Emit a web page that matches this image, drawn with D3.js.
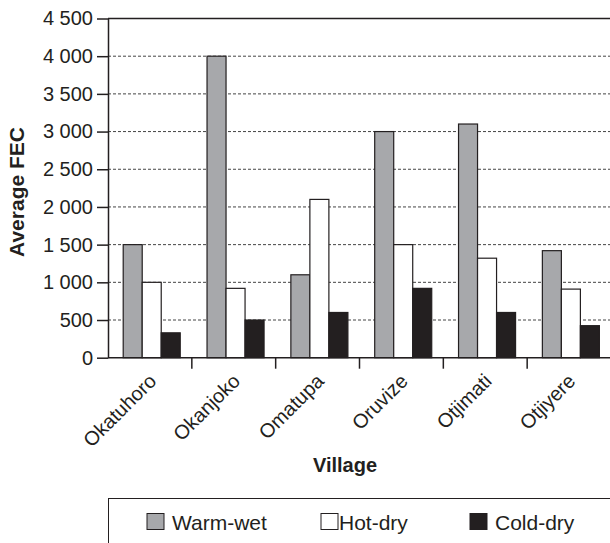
<!DOCTYPE html>
<html><head><meta charset="utf-8">
<script src="https://cdn.jsdelivr.net/npm/d3@7"></script>
<style>
html,body{margin:0;padding:0;background:#fff;}
text{font-family:"Liberation Sans",Arial,Helvetica,sans-serif;fill:#231f20;}
</style></head>
<body>
<svg id="chart" width="610" height="543"></svg>
<script>
const villages = ["Okatuhoro","Okanjoko","Omatupa","Oruvize","Otjimati","Otjiyere"];
const seriesNames = ["Warm-wet","Hot-dry","Cold-dry"];
const warmWet = [1500, 4000, 1100, 3000, 3100, 1420];
const hotDry  = [1000, 920, 2100, 1500, 1320, 910];
const coldDry = [330, 500, 600, 920, 600, 425];
const yTicks = [0,500,1000,1500,2000,2500,3000,3500,4000,4500];
const yTickLabels = ["0","500","1 000","1 500","2 000","2 500","3 000","3 500","4 000","4 500"];
const colors = ["#a7a8ab","#ffffff","#231f20"];

const svg = d3.select("#chart");
const L = 108, R = 611, T = 18.5, B = 357.7;
const x = d3.scaleBand().domain(villages).range([L, R]).paddingInner(0).paddingOuter(0);
const xs = d3.scaleBand().domain(seriesNames).range([0, x.bandwidth()]).paddingOuter(0.705).paddingInner(0);
const y = d3.scaleLinear().domain([0, 4500]).range([B, T]);

// gridlines
svg.append("g").selectAll("line").data(yTicks.filter(d => d > 0 && d < 4500)).join("line")
  .attr("x1", L).attr("x2", R).attr("y1", d => y(d)).attr("y2", d => y(d))
  .attr("stroke", "#444").attr("stroke-width", 1).attr("stroke-dasharray", "3,2");

// bars
const data = villages.map((v, i) => ({v, vals: [warmWet[i], hotDry[i], coldDry[i]]}));
const g = svg.append("g").selectAll("g").data(data).join("g")
  .attr("transform", d => `translate(${x(d.v) + 1.8},0)`);
g.selectAll("rect").data(d => d.vals.map((val, j) => ({s: seriesNames[j], val, j}))).join("rect")
  .attr("x", d => xs(d.s)).attr("width", xs.bandwidth())
  .attr("y", d => y(d.val)).attr("height", d => B - y(d.val))
  .attr("fill", d => colors[d.j]).attr("stroke", "#231f20").attr("stroke-width", 1.2);

// top frame line
svg.append("line").attr("x1", L).attr("x2", R).attr("y1", T).attr("y2", T)
  .attr("stroke", "#231f20").attr("stroke-width", 1.5);

// y axis
const yAxis = d3.axisLeft(y).tickValues(yTicks).tickFormat((d, i) => yTickLabels[i]).tickSizeInner(11).tickSizeOuter(0).tickPadding(4);
const ya = svg.append("g").attr("transform", `translate(${L},0)`).call(yAxis);
ya.selectAll("path,line").attr("stroke", "#231f20").attr("stroke-width", 1.5);
ya.selectAll("text").style("font-size", "20px").attr("fill", "#231f20");

// x axis
const bounds = villages.slice(1).map(v => x(v));
svg.append("line").attr("x1", L).attr("x2", R).attr("y1", B).attr("y2", B)
  .attr("stroke", "#231f20").attr("stroke-width", 1.5);
svg.append("g").selectAll("line").data(bounds).join("line")
  .attr("x1", d => d).attr("x2", d => d).attr("y1", B).attr("y2", B + 11)
  .attr("stroke", "#231f20").attr("stroke-width", 1.5);
svg.append("g").selectAll("text").data(villages).join("text")
  .attr("transform", d => `translate(${x(d) + x.bandwidth() / 2 - 3},${B + 14}) rotate(-45)`)
  .attr("text-anchor", "end").attr("dy", "0.75em")
  .style("font-size", "20px").text(d => d);

// axis titles
svg.append("text").attr("transform", `translate(24,192) rotate(-90)`)
  .attr("text-anchor", "middle").style("font-size", "21px").style("font-weight", "bold").text("Average FEC");
svg.append("text").attr("x", 345).attr("y", 472)
  .attr("text-anchor", "middle").style("font-size", "20px").style("font-weight", "bold").text("Village");

// legend
svg.append("rect").attr("x", 108.5).attr("y", 498.5).attr("width", 520).attr("height", 80)
  .attr("fill", "none").attr("stroke", "#231f20").attr("stroke-width", 1);
const legX = [147, 321, 470];
const legTextDx = [25, 18, 25];
const lg = svg.append("g").selectAll("g").data(seriesNames).join("g")
  .attr("transform", (d, i) => `translate(${legX[i]},513.5)`);
lg.append("rect").attr("width", 17).attr("height", 16)
  .attr("fill", (d, i) => colors[i]).attr("stroke", "#231f20").attr("stroke-width", 1);
lg.append("text").attr("x", (d, i) => legTextDx[i]).attr("y", 16)
  .style("font-size", "21px").text(d => d);
</script>
</body></html>
